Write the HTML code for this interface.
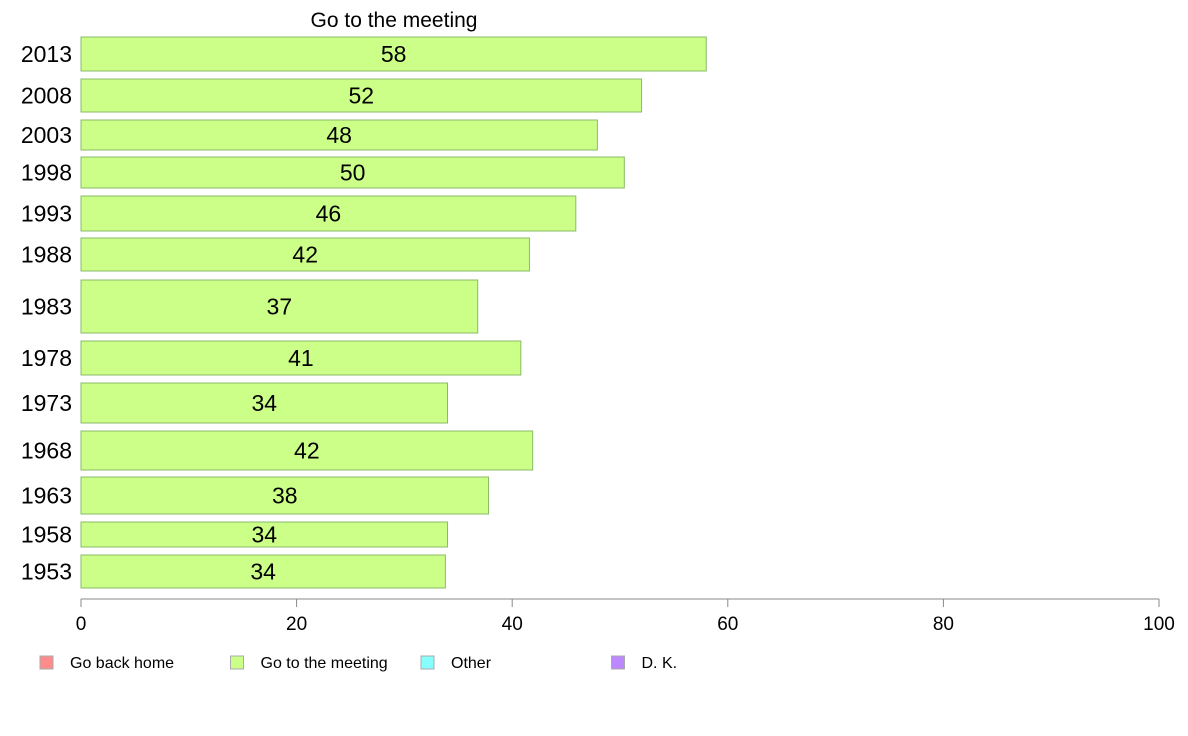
<!DOCTYPE html>
<html><head><meta charset="utf-8"><style>
body{margin:0;background:#fff;font-family:"Liberation Sans",sans-serif;}
svg{display:block}
</style></head><body>
<svg id="chart" width="1188" height="736" font-family="Liberation Sans, sans-serif"></svg>
<script>
const years=["2013","2008","2003","1998","1993","1988","1983","1978","1973","1968","1963","1958","1953"];
const goMeeting=[58,52,47.9,50.4,45.9,41.6,36.8,40.8,34.0,41.9,37.8,34.0,33.8];
const xTicks=[0,20,40,60,80,100];
const legendLabels=["Go back home","Go to the meeting","Other","D. K."];
const legendColors=["#ff8c8c","#ccff88","#88ffff","#bb88ff"];
// layout (pixel band geometry, not data)
const bandTop=[37,79,120,157,196,238,280,341,383,431,477,522,555];
const bandBot=[71,112,150,188,231,271,333,375,423,470,514,547,588];

const svg=document.getElementById('chart');
const NS="http://www.w3.org/2000/svg";
const x0=81,x1=1159;
const xs=v=>x0+(x1-x0)*v/100;
function mk(tag,attrs,parent){const e=document.createElementNS(NS,tag);for(const k in attrs)e.setAttribute(k,attrs[k]);(parent||svg).appendChild(e);return e;}

let t=mk('text',{x:394,y:27,'text-anchor':'middle','font-size':21,fill:'#000'});
t.textContent="Go to the meeting";



years.forEach((y,i)=>{
  const top=bandTop[i],h=bandBot[i]-bandTop[i],cy=(bandTop[i]+bandBot[i])/2;
  const r=mk('rect',{x:x0,y:top,width:xs(goMeeting[i])-x0,height:h,fill:'#ccff88',stroke:'#88bb66','stroke-width':1});
  
  
  const yl=mk('text',{x:72,y:cy+8,'text-anchor':'end','font-size':23,fill:'#000'});
  yl.textContent=y;
  
  
  const vl=mk('text',{x:(x0+xs(goMeeting[i]))/2,y:cy+8,'text-anchor':'middle','font-size':23,fill:'#000'});
  vl.textContent=Math.round(goMeeting[i]);
  
  
});

const ax=mk('line',{x1:x0,y1:599,x2:x1,y2:599,stroke:'#888','stroke-width':1});


xTicks.forEach(v=>{
  const tk=mk('line',{x1:xs(v),y1:599,x2:xs(v),y2:607,stroke:'#888','stroke-width':1});
  
  
  const tl=mk('text',{x:xs(v),y:630,'text-anchor':'middle','font-size':19,fill:'#000'});
  tl.textContent=v;
  
  
});

legendLabels.forEach((l,i)=>{
  const lx=40+i*190.5;
  const g=mk('g',{});
  
  
  mk('rect',{x:lx,y:656,width:13,height:13,fill:legendColors[i],stroke:'#aaa','stroke-width':1},g);
  const lt=mk('text',{x:lx+30,y:668,'font-size':16,fill:'#000'},g);
  lt.textContent=l;
});
</script>
</body></html>
